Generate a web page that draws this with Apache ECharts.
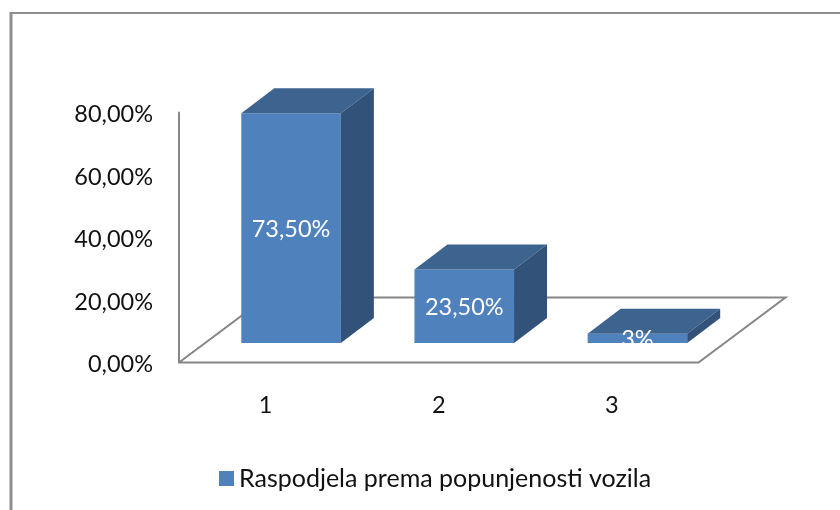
<!DOCTYPE html>
<html>
<head>
<meta charset="utf-8">
<style>
    html, body { margin: 0; padding: 0; background: #fff; }
    #chart { width: 840px; height: 510px; }
</style>
<script src="https://cdn.jsdelivr.net/npm/echarts@6/dist/echarts.min.js"></script>
</head>
<body>
<div id="chart"></div>
<script>
    const categories = ['1', '2', '3'];
    const values = [73.5, 23.5, 3];
    const valueLabels = ['73,50%', '23,50%', '3%'];
    const seriesName = 'Raspodjela prema popunjenosti vozila';

    const FONT = 'Lato';
    const FRONT = '#4f81bd';
    const TOP = '#3d638f';
    const SIDE = '#32527a';
    const AXIS = '#868686';
    const FRAME = '#8e8e8e';
    // 3d pomak stupca i poda
    const BAR_DX = 33, BAR_DY = 25;
    const FLOOR_DX = 87, FLOOR_DY = 65;
    const BASE_LIFT = 19.5;
    const BASE_SHIFT = 25.5;
    const BAR_RATIO = 0.575;

    function renderBar(params, api) {
        const idx = api.value(0);
        const top = api.coord([idx, api.value(1)]);
        const zero = api.coord([idx, 0]);
        const w = api.size([1, 0])[0] * BAR_RATIO;
        const cx = top[0] + BASE_SHIFT;
        const x0 = cx - w / 2, x1 = cx + w / 2;
        const yTop = top[1] - BASE_LIFT, yBase = zero[1] - BASE_LIFT;
        return {
            type: 'group',
            children: [
                { type: 'rect', shape: { x: x0, y: yTop, width: w, height: yBase - yTop }, style: { fill: FRONT } },
                { type: 'polygon', shape: { points: [[x0, yTop], [x0 + BAR_DX, yTop - BAR_DY], [x1 + BAR_DX, yTop - BAR_DY], [x1, yTop]] }, style: { fill: TOP } },
                { type: 'polygon', shape: { points: [[x1, yTop], [x1 + BAR_DX, yTop - BAR_DY], [x1 + BAR_DX, yBase - BAR_DY], [x1, yBase]] }, style: { fill: SIDE } },
                {
                    type: 'text',
                    style: {
                        x: cx, y: (yTop + yBase) / 2 + 1.5,
                        text: valueLabels[idx], fill: '#fff', font: '23.5px ' + FONT,
                        align: 'center', verticalAlign: 'middle'
                    },
                    // tekst se reze na dnu stupca
                    clipPath: { type: 'rect', shape: { x: x0, y: yBase - 400, width: w, height: 400 } }
                }
            ]
        };
    }

    function renderFloor(params) {
        const g = params.coordSys;
        const x0 = g.x, x1 = g.x + g.width, y = g.y + g.height;
        return {
            type: 'polyline',
            shape: { points: [[x0, y], [x1, y], [x1 + FLOOR_DX, y - FLOOR_DY], [x0 + FLOOR_DX, y - FLOOR_DY], [x0, y]] },
            style: { fill: null, stroke: AXIS, lineWidth: 2 },
            silent: true
        };
    }

    const chart = echarts.init(document.getElementById('chart'));
    chart.setOption({
        animation: false,
        textStyle: { fontFamily: FONT },
        graphic: [
            { type: 'line', shape: { x1: 11, y1: 12, x2: 11, y2: 510 }, style: { stroke: FRAME, lineWidth: 3 }, silent: true },
            { type: 'line', shape: { x1: 10, y1: 13, x2: 840, y2: 13 }, style: { stroke: FRAME, lineWidth: 2 }, silent: true }
        ],
        grid: { left: 179, top: 112.5, width: 519.5, height: 250 },
        legend: {
            left: 214, top: 461,
            icon: 'rect',
            itemWidth: 15, itemHeight: 15, itemGap: 6,
            textStyle: { fontSize: 25, color: '#111', fontFamily: FONT },
            data: [{ name: seriesName, itemStyle: { color: FRONT } }]
        },
        xAxis: {
            type: 'category',
            data: categories,
            axisLine: { show: false },
            axisTick: { show: false },
            axisLabel: { fontSize: 23.5, color: '#111', margin: 31 }
        },
        yAxis: {
            type: 'value',
            min: 0, max: 80, interval: 20,
            splitLine: { show: false },
            axisTick: { show: false },
            axisLine: { show: true, lineStyle: { color: AXIS, width: 2 } },
            axisLabel: {
                fontSize: 23.5, color: '#111', margin: 26,
                verticalAlign: 'bottom',
                padding: [0, 0, -14, 0],
                formatter: v => v.toFixed(2).replace('.', ',') + '%'
            }
        },
        series: [
            { type: 'custom', name: 'floor', coordinateSystem: 'cartesian2d', data: [[0, 0]], renderItem: renderFloor, clip: false, z: 1, silent: true },
            {
                type: 'custom', name: seriesName, coordinateSystem: 'cartesian2d',
                data: values.map((v, i) => [i, v]),
                encode: { x: 0, y: 1 },
                renderItem: renderBar, clip: false, z: 2,
                itemStyle: { color: FRONT }
            }
        ]
    });
</script>
</body>
</html>
